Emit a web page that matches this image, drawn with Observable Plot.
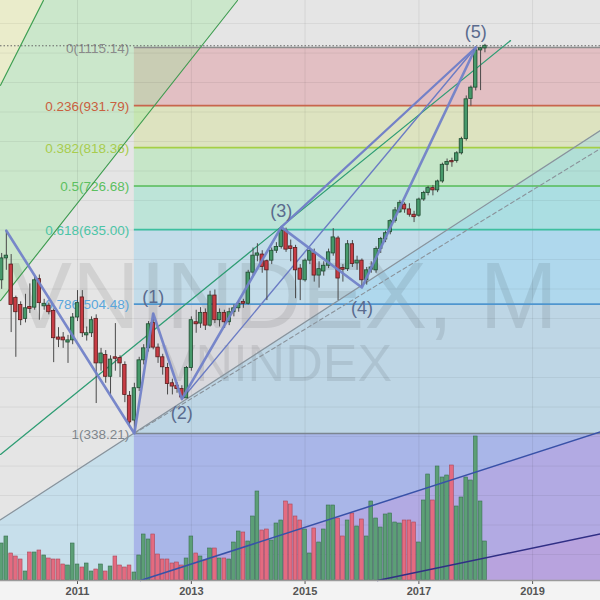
<!DOCTYPE html>
<html><head><meta charset="utf-8">
<script src="https://cdn.jsdelivr.net/npm/d3@7"></script>
<script src="https://cdn.jsdelivr.net/npm/@observablehq/plot@0.6"></script>
<style>
html,body{margin:0;padding:0;background:#fff;}
#chart{position:relative;width:600px;height:600px;overflow:hidden;background:linear-gradient(#e5e5e5 0px,#e5e5e5 580px,#f3f3f3 580px,#f3f3f3 600px);}
#chart svg{position:absolute;left:0;top:0;}
#chart svg.l3 [aria-label^="x-axis"] text{font-weight:bold;font-size:11px;fill:#555;}
</style></head><body><div id="chart"></div>
<script>
// ---------------- DATA ----------------
const firstMonth = "2009-09-01";
const open  = [543,581,570,514,503,482,500,499,545,501,502,494,455,455,448,451,484,515,458,461,482,420,431,403,428,427,418,380,352,389,424,440,476,441,428,414,395,392,388,377,414,477,475,491,472,518,480,491,477,492,498,508,505,556,586,588,576,577,595,602,633,603,600,563,543,577,590,551,558,568,590,618,564,562,607,572,577,543,561,560,598,616,630,652,670,686,676,665,663,697,711,722,717,737,776,785,785,804,840,951,985,1105,1112];
const high  = [590,633,588,517,508,520,537,550,552,512,506,497,469,462,458,490,526,526,470,485,488,440,437,430,475,430,422,385,395,428,445,478,490,446,432,420,400,396,392,416,485,495,499,497,525,527,497,495,498,503,510,512,560,600,608,595,578,600,610,640,638,615,605,570,580,600,598,575,575,598,637,622,570,614,614,585,580,565,575,602,620,632,655,680,695,690,688,672,700,715,726,728,740,780,790,792,808,845,960,990,1115.14,1115,1126];
const low   = [528,560,462,428,472,476,490,495,480,495,488,421,441,440,420,445,478,455,450,455,371,410,395,381,410,402,372,345,338.21,385,418,435,438,420,405,381,381,383,376,378,410,461,468,465,470,475,470,468,472,485,492,498,503,550,575,555,510,570,590,598,592,575,513,510,540,570,540,530,550,563,585,510,540,558,565,560,531,535,555,555,590,610,625,648,668,668,660,649,660,693,705,705,712,733,760,770,780,800,835,930,975,976,1097];
const close = [581,586,503,492,480,498,497,543,506,505,492,454,452,451,451,484,506,461,461,480,420,433,403,425,426,420,381,350,389,424,440,474,441,428,415,394,391,388,378,414,480,474,491,472,518,480,491,477,492,498,505,505,556,586,590,566,560,595,602,633,597,598,560,544,577,595,551,562,568,592,620,546,561,607,571,577,543,560,565,598,617,628,652,674,690,676,665,660,697,711,722,717,737,776,783,782,804,840,950,985,1105,1112,1121];
const volume = [1110,1320,810,720,630,270,840,840,900,750,660,630,630,480,450,1110,480,390,510,270,330,480,270,420,720,450,390,450,240,750,1380,1230,1380,780,630,630,510,540,450,660,1320,810,720,600,960,960,660,660,630,1140,1470,1440,1170,1920,2670,1500,1530,1200,1710,1800,2370,2280,1920,1800,1530,810,1560,1140,1530,2250,2250,1860,1320,1800,2010,1620,1830,1320,2370,1860,1590,1980,2010,1740,1710,1800,1800,1740,1140,2400,3180,2400,3420,3090,3150,3450,2220,2490,3090,3000,4320,2370,1170];

const fibRatios = ["0","0.236","0.382","0.5","0.618","0.786","1"];
const fibPrices = [1115.14,931.79,818.36,726.68,635.00,504.48,338.21];
const fibStart = "2012-01-01";

const waveDates  = ["2009-10-01","2012-01-01","2012-05-01","2012-11-01","2014-08-01","2016-01-01","2018-01-01"];
const wavePrices = [633,338.21,490,376,640,531,1115.14];
const waveNames  = ["","","(1)","(2)","(3)","(4)","(5)"];

const yearTicks = ["2011","2013","2015","2017","2019"];
const gridPrices = [1201,1096,1000.7,913.5,833.9,761.2,694.9,634.4,579.1,528.6,482.5,440.4,402.1,367.0,335.0,305.8,279.2,254.9,232.7];

// chart frame (visible window)
const X0 = new Date("2009-08-24T12:00:00Z"), X1 = new Date("2020-03-12T00:00:00Z");
const Y0 = 214.7, Y1 = 1289.4;

// drawing tool endpoints [date, price]
const lineA  = [[X0, 992],  ["2010-05-27", Y1]];
const lineB  = [[X0, 510],  ["2013-10-24", Y1]];
const lineC  = [[X0, 317],  ["2018-08-12", 1139]];
const lineE  = [[X0, 259],  [X1, 863]];
const lineDs = [["2012-01-01", 338.21], [X1, 816]];
const lineF  = [["2012-02-09", Y0], [X1, 340]];
const lineG  = [["2016-04-10", Y0], [X1, 248]];
const lineH  = [["2012-11-01", 376], ["2018-01-01", 1115.14]];
const lineT  = [["2014-08-01", 640], ["2018-01-01", 1115.14]];
const greenFan = [[X0, 510, 992], ["2010-05-27", 603.6, Y1], ["2013-10-24", Y1, Y1]];
const yellowFan = [[X0, 992, Y1], ["2010-05-27", Y1, Y1]];

// ---------------- BUILD ----------------
const D = v => v instanceof Date ? v : new Date(v + (v.length === 10 ? "T00:00:00Z" : ""));
const DAY = 864e5;
const m0 = D(firstMonth);
const dates = d3.utcMonth.range(m0, d3.utcMonth.offset(m0, open.length));
const candles = dates.map((date, i) => ({date, open: open[i], high: high[i], low: low[i], close: close[i], volume: volume[i], up: close[i] >= open[i]}));
const lastClose = close[close.length - 1];
const fs = D(fibStart);
const fib = fibRatios.map((r, i) => ({ratio: r, price: fibPrices[i], label: `${r}(${fibPrices[i].toFixed(2)})`}));
const pts = arr => arr.map(([x, y]) => ({x: D(x), y}));
const area3 = arr => arr.map(([x, lo, hi]) => ({x: D(x), lo, hi}));
const wave = waveDates.map((d, i) => ({x: D(d), y: wavePrices[i], name: waveNames[i]}));
const years = yearTicks.map(y => D(y + "-01-01"));

// styles
const FONT = "'Liberation Sans', Arial, sans-serif";
const fibLineColors  = ["#8c8c8c","#c8654c","#a5cf45","#55bb55","#3dbf9f","#4e96cf","#7c8690"];
const fibLabelColors = ["#8a8a8a","#c9603f","#a8cc4e","#5cc05f","#4cc4a6","#5aa6dc","#7f868c"];
const fibBandColors  = ["#e2bfc3","#dde3c0","#c6e6c8","#bde4d8","#c3dce9","#d9d9dd"];
const waveOffsets = {"(1)": -16, "(2)": 14, "(3)": -16, "(4)": 21, "(5)": -15};

const common = {width: 600, height: 600, marginTop: 0, marginRight: 0, marginBottom: 20, marginLeft: 0,
  style: {background: "transparent", fontFamily: FONT, overflow: "visible"}};
const xScale = {type: "utc", domain: [X0, X1], axis: null};
const yPrice = {type: "log", domain: [Y0, Y1], axis: null};

// Layer 1: backgrounds
const bandMarks = fibBandColors.map((c, i) =>
  Plot.rect([{y1: fibPrices[i], y2: fibPrices[i + 1]}], {x1: () => fs, x2: () => X1, y1: "y1", y2: "y2", fill: c}));
const layer1 = Plot.plot({...common, x: xScale, y: yPrice, marks: [
  ...bandMarks,
  Plot.areaY(area3([[X0, Y0, lineE[0][1]], [X1, Y0, lineE[1][1]]]), {x: "x", y1: "lo", y2: "hi", fill: "rgb(130,207,250)", fillOpacity: 0.3}),
  Plot.rect([0], {x1: () => fs, x2: () => X1, y1: () => Y0, y2: () => fibPrices[6], fill: "#a9b6e8"}),
  Plot.areaY(area3([[lineF[0][0], Y0, Y0], [X1, Y0, lineF[1][1]]]), {x: "x", y1: "lo", y2: "hi", fill: "rgb(209,134,212)", fillOpacity: 0.25}),
  Plot.areaY(area3([[lineG[0][0], Y0, Y0], [X1, Y0, lineG[1][1]]]), {x: "x", y1: "lo", y2: "hi", fill: "rgb(209,134,205)", fillOpacity: 0.2}),
  Plot.areaY(area3(greenFan), {x: "x", y1: "lo", y2: "hi", fill: "rgb(150,235,150)", fillOpacity: 0.32}),
  Plot.areaY(area3(yellowFan), {x: "x", y1: "lo", y2: "hi", fill: "rgb(240,245,170)", fillOpacity: 0.45}),
  Plot.ruleY(gridPrices, {stroke: "#000", strokeOpacity: 0.06}),
  Plot.ruleX(years, {stroke: "#000", strokeOpacity: 0.07}),
  Plot.text(["VNINDEX, M"], {frameAnchor: "top-left", dx: 283, dy: 261, text: d => d, fontSize: 94, fill: "#000", fillOpacity: 0.085, textAnchor: "middle"}),
  Plot.text(["VNINDEX"], {frameAnchor: "top-left", dx: 276, dy: 344, text: d => d, fontSize: 52, fill: "#000", fillOpacity: 0.085, textAnchor: "middle"})
]});

// Layer 2: volume
const vx1 = d => new Date(+d.date - 12 * DAY), vx2 = d => new Date(+d.date + 12 * DAY);
const layer2 = Plot.plot({...common, x: xScale, y: {domain: [0, 17400], axis: null}, marks: [
  Plot.rectY(candles.filter(d => d.up), {x1: vx1, x2: vx2, y: "volume", fill: "#5c9f76", stroke: "#3a7050", strokeWidth: 0.6}),
  Plot.rectY(candles.filter(d => !d.up), {x1: vx1, x2: vx2, y: "volume", fill: "#e46b80", stroke: "#a84858", strokeWidth: 0.6})
]});

// Layer 3: drawings, candles, axis
const lineSpec = [
  [lineA, "#3f9f50", 1.2, null], [lineB, "#3f9f50", 1.2, null], [lineC, "#2f9d74", 1.3, null],
  [lineE, "#8a929a", 1.2, null], [lineDs, "#8a929a", 1.1, "4,3"],
  [lineF, "#3752a8", 1.5, null], [lineG, "#2f2f85", 1.5, null],
  [lineH, "#6b7cc4", 1.4, null], [lineT, "#7381c8", 2.2, null]
];
const bx1 = d => new Date(+d.date - 11 * DAY), bx2 = d => new Date(+d.date + 11 * DAY);
const layer3 = Plot.plot({...common, className: "l3",
  style: {...common.style, color: "#555"},
  x: {type: "utc", domain: [X0, X1], ticks: years, tickFormat: "%Y", tickSize: 4, tickPadding: 3, label: null},
  y: yPrice, marks: [
  ...fib.map((f, i) => Plot.ruleY([f], {y: "price", x1: () => fs, x2: () => X1, stroke: fibLineColors[i], strokeWidth: 1.6})),
  ...fib.map((f, i) => Plot.text([f], {x: () => fs, y: "price", text: "label", dx: -5, dy: 1, textAnchor: "end", fontSize: 13.5, fill: fibLabelColors[i]})),
  Plot.ruleY([lastClose], {stroke: "#666", strokeWidth: 1, strokeDasharray: "1.5,2"}),
  ...lineSpec.map(([l, c, w, dash]) => Plot.line(pts(l), {x: "x", y: "y", stroke: c, strokeWidth: w, strokeDasharray: dash})),
  Plot.ruleX(candles, {x: "date", y1: "low", y2: "high", stroke: "#4a4a4a", strokeWidth: 1}),
  Plot.rect(candles.filter(d => d.up), {x1: bx1, x2: bx2, y1: "open", y2: "close", fill: "#46996a", stroke: "#1f4a30", strokeWidth: 0.8}),
  Plot.rect(candles.filter(d => !d.up), {x1: bx1, x2: bx2, y1: "open", y2: "close", fill: "#c73c44", stroke: "#5a1c1c", strokeWidth: 0.8}),
  Plot.line(wave, {x: "x", y: "y", stroke: "#7282c8", strokeWidth: 2.6, strokeOpacity: 0.95}),
  ...wave.filter(w => w.name).map(w => Plot.text([w], {x: "x", y: "y", text: "name", dy: waveOffsets[w.name], fontSize: 18, fill: "#5a6b8e"})),
  Plot.ruleY([Y0], {stroke: "#9a9a9a", strokeWidth: 1.5})
]});

const chart = document.getElementById("chart");
chart.append(layer1, layer2, layer3);
</script></body></html>
